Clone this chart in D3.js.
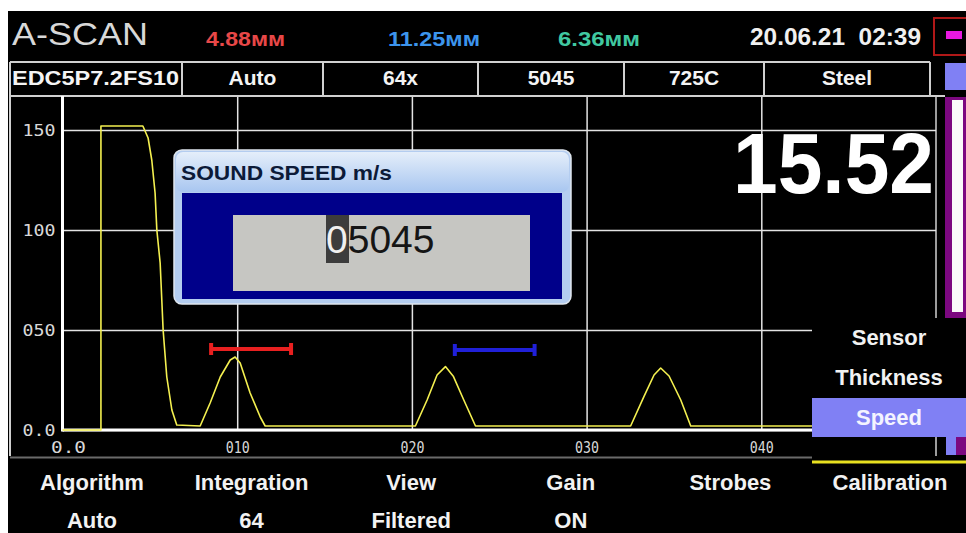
<!DOCTYPE html>
<html><head><meta charset="utf-8">
<script src="https://cdn.jsdelivr.net/npm/d3@7"></script>
<style>html,body{margin:0;padding:0;background:#fff;overflow:hidden}</style>
</head><body><svg id="c" width="966" height="533"></svg>
<script>
// ---------- data ----------
const headerTitle = "A-SCAN";
const readings = ["4.88мм", "11.25мм", "6.36мм"];
const readingColors = ["#e84848", "#3c94ec", "#40c8a0"];
const dateTime = "20.06.21  02:39";
const infoCells = ["EDC5P7.2FS10", "Auto", "64x", "5045", "725C", "Steel"];
const signalX = [0, 2.2, 2.2, 4.6, 4.9, 5.11, 5.3, 5.4, 5.59, 5.76, 5.97, 6.26, 6.54,
  7.88, 8.45, 9.03, 9.6, 9.88, 10.17, 10.74, 11.32, 11.6,
  20.2, 20.87, 21.44, 21.92, 22.38, 22.97, 23.64,
  32.52, 33.28, 33.86, 34.24, 34.72, 35.39, 35.96, 43.0];
const signalY = [0, 0, 152, 152, 146, 135, 118.5, 100, 83.5, 50, 26.5, 10, 2.5,
  2, 13.5, 26.5, 35, 36.5, 33.5, 18.5, 6.5, 2,
  2, 15, 27.5, 31.7, 26.7, 15, 2,
  2, 16.7, 27.5, 31, 27, 15, 2, 2];
const strobeStart = [8.45, 22.4];
const strobeEnd = [13.14, 27.08];
const strobeLevel = [40.5, 40];
const strobeColors = ["#e82020", "#2020d8"];
const xTicks = [0, 10, 20, 30, 40];
const xTickLabels = ["0.0", "010", "020", "030", "040"];
const yTicks = [0, 50, 100, 150];
const yTickLabels = ["0.0", "050", "100", "150"];
const thickness = "15.52";
const dialogTitle = "SOUND SPEED m/s";
const dialogValue = "05045";
const submenu = ["Sensor", "Thickness", "Speed"];
const submenuSelected = 2;
const menuLabels = ["Algorithm", "Integration", "View", "Gain", "Strobes", "Calibration"];
const menuValues = ["Auto", "64", "Filtered", "ON", "", ""];

// ---------- drawing ----------
const svg = d3.select("#c");
const F = "'Liberation Sans', Arial, sans-serif";
const MONO = "'DejaVu Sans Mono', monospace";

svg.append("rect").attr("x", 8).attr("y", 11).attr("width", 958).attr("height", 522).attr("fill", "#000");

const x = d3.scaleLinear().domain([0, 50]).range([62.5, 936]);
const y = d3.scaleLinear().domain([0, 150]).range([430, 130]);

// header
svg.append("text").attr("x", 12).attr("y", 45).attr("font-family", F).attr("font-size", 32)
  .attr("fill", "#d8d8d8").attr("textLength", 136).attr("lengthAdjust", "spacingAndGlyphs").text(headerTitle);
const readX = [206, 388, 558], readW = [79, 92, 82];
readings.forEach((t, i) => {
  svg.append("text").attr("x", readX[i]).attr("y", 46).attr("font-family", F).attr("font-weight", "bold")
    .attr("font-size", 20).attr("fill", readingColors[i]).attr("textLength", readW[i])
    .attr("lengthAdjust", "spacingAndGlyphs").text(t);
});
svg.append("text").attr("x", 750).attr("y", 45).attr("font-family", F).attr("font-weight", "bold")
  .attr("font-size", 24).attr("fill", "#f0f0f0").attr("textLength", 171)
  .attr("lengthAdjust", "spacingAndGlyphs").attr("xml:space", "preserve").text(dateTime);
svg.append("rect").attr("x", 934).attr("y", 18).attr("width", 34).attr("height", 37)
  .attr("fill", "#000").attr("stroke", "#b01818").attr("stroke-width", 2);
svg.append("rect").attr("x", 946).attr("y", 31).attr("width", 16).attr("height", 8).attr("fill", "#e818e0");

// info row
const cellEdges = [10, 182, 323, 478, 624, 764, 930];
const gridCol = "#d0d0d0";
svg.append("line").attr("x1", 10).attr("x2", 930).attr("y1", 62).attr("y2", 62).attr("stroke", gridCol).attr("stroke-width", 2);
svg.append("line").attr("x1", 10).attr("x2", 945).attr("y1", 96).attr("y2", 96).attr("stroke", gridCol).attr("stroke-width", 2);
cellEdges.forEach(e => svg.append("line").attr("x1", e).attr("x2", e).attr("y1", 62).attr("y2", 96)
  .attr("stroke", gridCol).attr("stroke-width", 2));
infoCells.forEach((t, i) => {
  const tx = svg.append("text").attr("y", 85).attr("font-family", F).attr("font-weight", "bold")
    .attr("font-size", 21).attr("fill", "#f4f4f4").text(t);
  if (i === 0) tx.attr("x", 12).attr("textLength", 167).attr("lengthAdjust", "spacingAndGlyphs");
  else tx.attr("x", (cellEdges[i] + cellEdges[i + 1]) / 2).attr("text-anchor", "middle");
});
svg.append("rect").attr("x", 945).attr("y", 63).attr("width", 21).attr("height", 27).attr("fill", "#8080f4");

// plot frame
svg.append("line").attr("x1", 10).attr("x2", 10).attr("y1", 96).attr("y2", 456).attr("stroke", gridCol).attr("stroke-width", 2);
svg.append("line").attr("x1", 936).attr("x2", 936).attr("y1", 96).attr("y2", 456).attr("stroke", gridCol).attr("stroke-width", 1.5);
svg.append("line").attr("x1", 10).attr("x2", 812).attr("y1", 457.5).attr("y2", 457.5).attr("stroke", "#6a6a6a").attr("stroke-width", 2);

// grid via axes
const yAxis = d3.axisLeft(y).tickValues(yTicks).tickFormat((d, i) => yTickLabels[i])
  .tickSize(-(936 - 62.5)).tickPadding(7);
const gy = svg.append("g").attr("transform", "translate(62.5,0)").call(yAxis);
gy.select(".domain").remove();
gy.selectAll("line").attr("stroke", "#e4e4e4").attr("stroke-width", 1.5);
gy.selectAll("text").attr("font-family", MONO).attr("font-size", 15).attr("fill", "#d8d8d8")
  .attr("textLength", 33).attr("lengthAdjust", "spacingAndGlyphs").attr("dy", "0.36em");

const xAxis = d3.axisBottom(x).tickValues(xTicks).tickFormat((d, i) => xTickLabels[i])
  .tickSize(-(430 - 97)).tickPadding(0);
const gx = svg.append("g").attr("transform", "translate(0,430)").call(xAxis);
gx.select(".domain").remove();
gx.selectAll("line").attr("stroke", "#e4e4e4").attr("stroke-width", 1.5);
gx.selectAll("text").attr("font-family", MONO).attr("font-size", 15).attr("fill", "#d8d8d8")
  .attr("text-anchor", "start").attr("x", -12).attr("y", 23).attr("dy", 0)
  .attr("textLength", (d, i) => i === 0 ? 35 : 24).attr("lengthAdjust", "spacingAndGlyphs");

// thick axes
svg.append("line").attr("x1", 62.5).attr("x2", 62.5).attr("y1", 96).attr("y2", 431.5).attr("stroke", "#fff").attr("stroke-width", 3);
svg.append("line").attr("x1", 62.5).attr("x2", 936).attr("y1", 430).attr("y2", 430).attr("stroke", "#fff").attr("stroke-width", 3);

// signal
const pts = signalX.map((v, i) => [v, signalY[i]]);
svg.append("path").datum(pts)
  .attr("d", d3.line().x(d => x(d[0])).y(d => y(d[1])))
  .attr("fill", "none").attr("stroke", "#f4f050").attr("stroke-width", 1.6).attr("stroke-linejoin", "round");

// strobes
strobeStart.forEach((s, i) => {
  const g = svg.append("g").attr("fill", strobeColors[i]);
  const yy = y(strobeLevel[i]);
  g.append("rect").attr("x", x(s)).attr("y", yy - 2).attr("width", x(strobeEnd[i]) - x(s)).attr("height", 4);
  g.append("rect").attr("x", x(s) - 1).attr("y", yy - 6).attr("width", 4).attr("height", 12);
  g.append("rect").attr("x", x(strobeEnd[i]) - 3).attr("y", yy - 6).attr("width", 4).attr("height", 12);
});

// big thickness
svg.append("text").attr("x", 934).attr("y", 193).attr("text-anchor", "end").attr("font-family", F)
  .attr("font-weight", "bold").attr("font-size", 85).attr("fill", "#fff")
  .attr("textLength", 201).attr("lengthAdjust", "spacingAndGlyphs").text(thickness);

// dialog
const defs = svg.append("defs");
const grad = defs.append("linearGradient").attr("id", "tb").attr("x1", 0).attr("x2", 0).attr("y1", 0).attr("y2", 1);
grad.append("stop").attr("offset", "0%").attr("stop-color", "#e4eefa");
grad.append("stop").attr("offset", "100%").attr("stop-color", "#a8c6f0");
svg.append("rect").attr("x", 174).attr("y", 150).attr("width", 397).attr("height", 154).attr("rx", 8)
  .attr("fill", "#b4cdf0").attr("stroke", "#dfe6ee").attr("stroke-width", 1.5);
svg.append("rect").attr("x", 176).attr("y", 152).attr("width", 393).attr("height", 40).attr("rx", 7)
  .attr("fill", "url(#tb)");
svg.append("text").attr("x", 181).attr("y", 180).attr("font-family", F).attr("font-weight", "bold")
  .attr("font-size", 21).attr("fill", "#0c1a38").attr("textLength", 211).attr("lengthAdjust", "spacingAndGlyphs").text(dialogTitle);
svg.append("rect").attr("x", 182).attr("y", 193).attr("width", 380).attr("height", 106).attr("fill", "#00008a");
svg.append("rect").attr("x", 233).attr("y", 215).attr("width", 297).attr("height", 76).attr("fill", "#c6c6c2");
svg.append("rect").attr("x", 326).attr("y", 215).attr("width", 23).attr("height", 48).attr("fill", "#3c3c3c");
const vt = svg.append("text").attr("x", 326).attr("y", 253).attr("font-family", F)
  .attr("font-size", 39).attr("fill", "#151515");
vt.append("tspan").attr("fill", "#f0f0f0").text(dialogValue[0]);
vt.append("tspan").text(dialogValue.slice(1));

// submenu popup
svg.append("rect").attr("x", 812).attr("y", 318).attr("width", 154).attr("height", 80).attr("fill", "#000");
const subY = [345, 385, 425];
svg.append("rect").attr("x", 812).attr("y", 398).attr("width", 154).attr("height", 39).attr("fill", "#8080f4");
submenu.forEach((t, i) => {
  svg.append("text").attr("x", 889).attr("y", subY[i]).attr("text-anchor", "middle").attr("font-family", F)
    .attr("font-weight", "bold").attr("font-size", 22).attr("fill", i === submenuSelected ? "#f4f4ff" : "#f2f2f2").text(t);
});

// scrollbar
svg.append("rect").attr("x", 945).attr("y", 97).attr("width", 21).attr("height", 221).attr("fill", "#7c0880");
svg.append("rect").attr("x", 952).attr("y", 100).attr("width", 11).attr("height", 212).attr("fill", "#fafafa");
svg.append("rect").attr("x", 946).attr("y", 437).attr("width", 10).attr("height", 18).attr("fill", "#8080f4");
svg.append("rect").attr("x", 956).attr("y", 437).attr("width", 10).attr("height", 18).attr("fill", "#7c0880");

// bottom menu
svg.append("line").attr("x1", 812).attr("x2", 966).attr("y1", 462).attr("y2", 462).attr("stroke", "#e8e020").attr("stroke-width", 3);
const mx = d3.scalePoint().domain(menuLabels).range([92, 890]);
menuLabels.forEach((t, i) => {
  svg.append("text").attr("x", mx(t)).attr("y", 490).attr("text-anchor", "middle").attr("font-family", F)
    .attr("font-weight", "bold").attr("font-size", 22).attr("fill", "#f2f2f2").text(t);
  if (menuValues[i]) svg.append("text").attr("x", mx(t)).attr("y", 528).attr("text-anchor", "middle").attr("font-family", F)
    .attr("font-weight", "bold").attr("font-size", 22).attr("fill", "#f2f2f2").text(menuValues[i]);
});
</script></body></html>
